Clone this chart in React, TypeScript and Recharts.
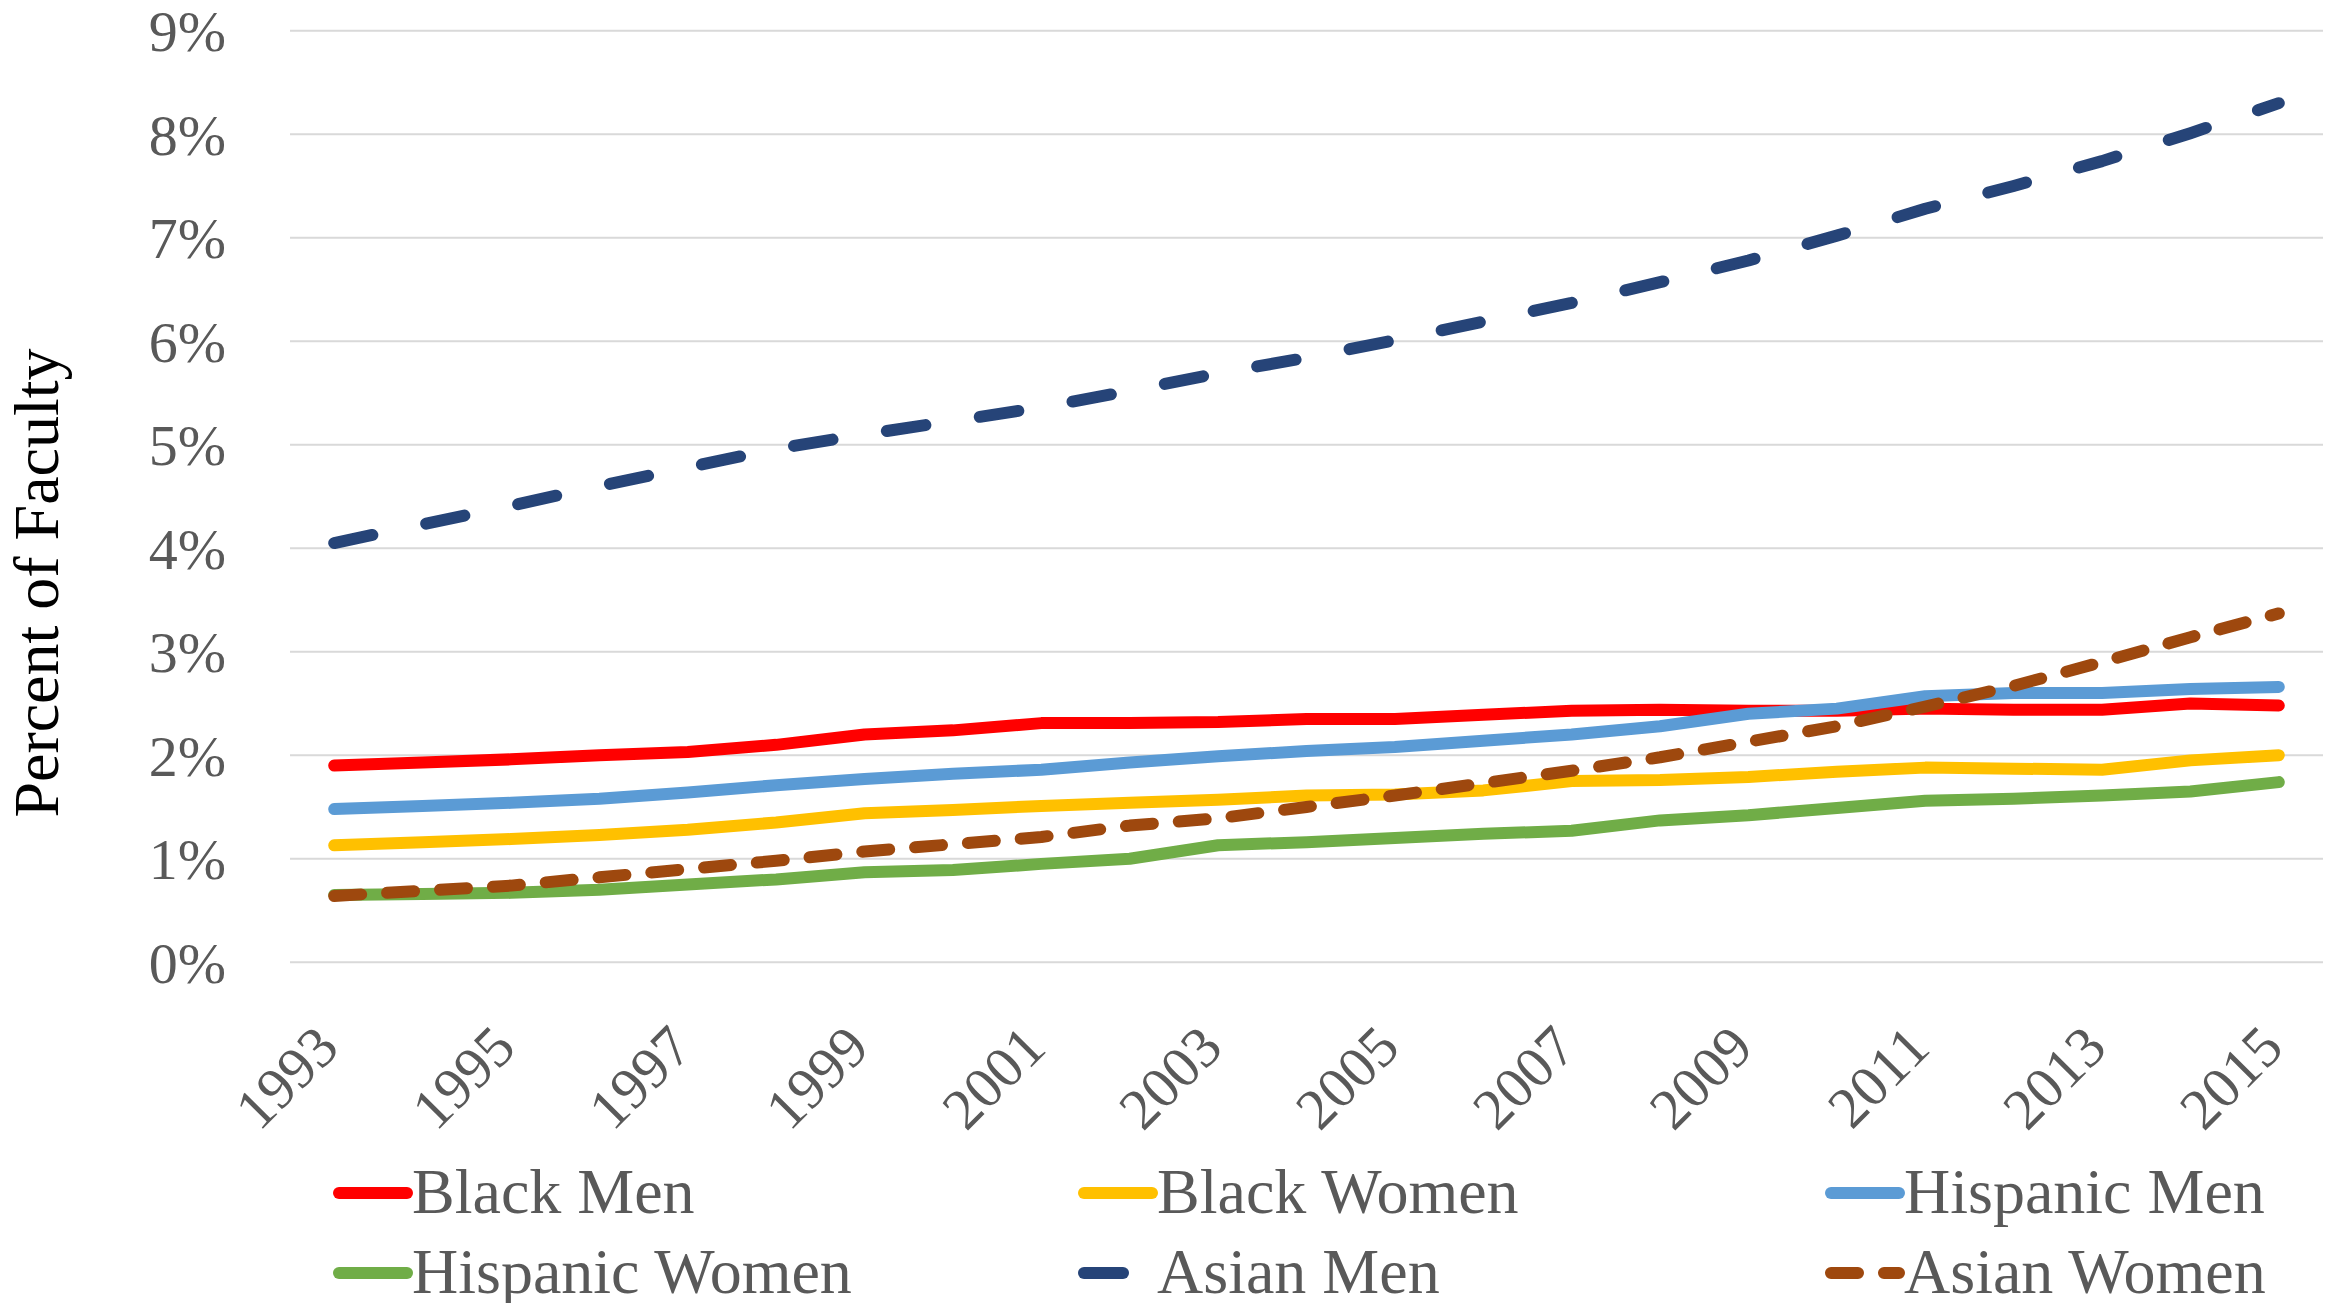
import React from 'react';
import { LineChart, Line, XAxis, YAxis, CartesianGrid, Legend } from 'recharts';

// years on the category axis (every year plotted, every other one labelled)
const years = [
    '1993', '1994', '1995', '1996', '1997', '1998', '1999', '2000', '2001', '2002', '2003', '2004',
    '2005', '2006', '2007', '2008', '2009', '2010', '2011', '2012', '2013', '2014', '2015',
];

// percent of faculty
const blackMen = [1.90, 1.93, 1.96, 2.00, 2.03, 2.10, 2.20, 2.24, 2.31, 2.31, 2.32, 2.35, 2.35, 2.39, 2.43, 2.44, 2.43, 2.43, 2.45, 2.44, 2.44, 2.50, 2.48];
const blackWomen = [1.13, 1.16, 1.19, 1.23, 1.28, 1.35, 1.44, 1.47, 1.51, 1.54, 1.57, 1.61, 1.62, 1.66, 1.75, 1.76, 1.79, 1.84, 1.88, 1.87, 1.86, 1.95, 2.00];
const hispanicMen = [1.48, 1.51, 1.54, 1.58, 1.64, 1.71, 1.77, 1.82, 1.86, 1.93, 1.99, 2.04, 2.08, 2.14, 2.20, 2.28, 2.40, 2.45, 2.57, 2.60, 2.60, 2.64, 2.66];
const hispanicWomen = [0.65, 0.66, 0.67, 0.70, 0.75, 0.80, 0.87, 0.89, 0.95, 1.00, 1.13, 1.16, 1.20, 1.24, 1.27, 1.37, 1.42, 1.49, 1.56, 1.58, 1.61, 1.65, 1.74];
const asianMen = [4.05, 4.23, 4.41, 4.60, 4.78, 4.96, 5.10, 5.23, 5.36, 5.52, 5.69, 5.84, 6.01, 6.19, 6.37, 6.57, 6.78, 7.02, 7.28, 7.50, 7.74, 8.01, 8.30];
const asianWomen = [0.64, 0.69, 0.74, 0.82, 0.90, 0.98, 1.07, 1.14, 1.21, 1.32, 1.39, 1.50, 1.61, 1.73, 1.85, 1.98, 2.13, 2.28, 2.47, 2.67, 2.90, 3.14, 3.37];

const yTicks = [0, 1, 2, 3, 4, 5, 6, 7, 8, 9];

const FONT = '"Liberation Serif", "Times New Roman", serif';
const TEXT_GRAY = '#595959';
const LINE_W = 12;

const series = [
    { key: 'blackMen', name: 'Black Men', color: '#FF0000', dash: undefined as string | undefined, values: blackMen },
    { key: 'blackWomen', name: 'Black Women', color: '#FFC000', dash: undefined, values: blackWomen },
    { key: 'hispanicMen', name: 'Hispanic Men', color: '#5B9BD5', dash: undefined, values: hispanicMen },
    { key: 'hispanicWomen', name: 'Hispanic Women', color: '#70AD47', dash: undefined, values: hispanicWomen },
    { key: 'asianMen', name: 'Asian Men', color: '#264478', dash: '39 55', values: asianMen },
    { key: 'asianWomen', name: 'Asian Women', color: '#9E480E', dash: '27 26', values: asianWomen },
];

const data = years.map((year, i) => {
    const row: { [key: string]: any } = { year };
    series.forEach((s) => {
        row[s.key] = s.values[i];
    });
    return row;
});

// rotated year labels, anchored at their end
const YearTick: React.FC<any> = ({ x, y, payload }) => {
    const bx = x + 7;
    const by = y + 88;
    return (
        <text
            x={bx}
            y={by}
            transform={`rotate(-45 ${bx} ${by})`}
            textAnchor="end"
            fontSize={58}
            fontFamily={FONT}
            fill={TEXT_GRAY}
        >
            {payload.value}
        </text>
    );
};

// legend: 3 columns x 2 rows
const legendCols = [333, 1078, 1825];
const legendRows = [1193, 1273];

const LegendContent: React.FC<any> = () => (
    <svg width={2333} height={1303} style={{ display: 'block' }}>
        {series.map((s, i) => {
            const x0 = legendCols[i % 3];
            const cy = legendRows[Math.floor(i / 3)];
            return (
                <g key={s.key}>
                    <line
                        x1={x0 + LINE_W / 2}
                        y1={cy}
                        x2={x0 + 80 - LINE_W / 2}
                        y2={cy}
                        stroke={s.color}
                        strokeWidth={LINE_W}
                        strokeLinecap="round"
                        strokeDasharray={s.dash}
                    />
                    <text x={x0 + 79} y={cy + 20} fontSize={64} fontFamily={FONT} fill={TEXT_GRAY}>
                        {s.name}
                    </text>
                </g>
            );
        })}
    </svg>
);

const YTitle: React.FC<any> = () => (
    <text
        x={58}
        y={583}
        transform="rotate(-90 58 583)"
        textAnchor="middle"
        fontSize={64}
        fontFamily={FONT}
        fill="#000000"
    >
        Percent of Faculty
    </text>
);

export default function App() {
    return (
        <div style={{ position: 'absolute', left: 0, top: 0, width: 2333, height: 1303, background: '#ffffff' }}>
            <LineChart
                width={2333}
                height={1303}
                data={data}
                margin={{ top: 30.7, right: 10, left: 0, bottom: 190.8 }}
            >
                <CartesianGrid vertical={false} stroke="#D9D9D9" strokeWidth={2} />
                <XAxis
                    dataKey="year"
                    height={150}
                    interval={1}
                    padding={{ left: 44.2, right: 44.2 }}
                    axisLine={false}
                    tickLine={false}
                    tickSize={0}
                    tickMargin={0}
                    tick={<YearTick />}
                />
                <YAxis
                    width={290}
                    domain={[0, 9]}
                    ticks={yTicks}
                    interval={0}
                    axisLine={false}
                    tickLine={false}
                    tickSize={0}
                    tickMargin={64}
                    tickFormatter={(v: number) => `${v}%`}
                    tick={{ fontSize: 58, fill: TEXT_GRAY, fontFamily: FONT }}
                    label={{ content: <YTitle /> }}
                />
                <Legend
                    layout="horizontal"
                    verticalAlign="middle"
                    align="center"
                    wrapperStyle={{ top: 0, left: 0, width: 2333, height: 1303, pointerEvents: 'none' }}
                    content={<LegendContent />}
                />
                {series.map((s) => (
                    <Line
                        key={s.key}
                        type="linear"
                        dataKey={s.key}
                        name={s.name}
                        stroke={s.color}
                        strokeWidth={LINE_W}
                        strokeDasharray={s.dash}
                        strokeLinecap="round"
                        strokeLinejoin="round"
                        dot={false}
                        activeDot={false}
                        isAnimationActive={false}
                    />
                ))}
            </LineChart>
        </div>
    );
}
